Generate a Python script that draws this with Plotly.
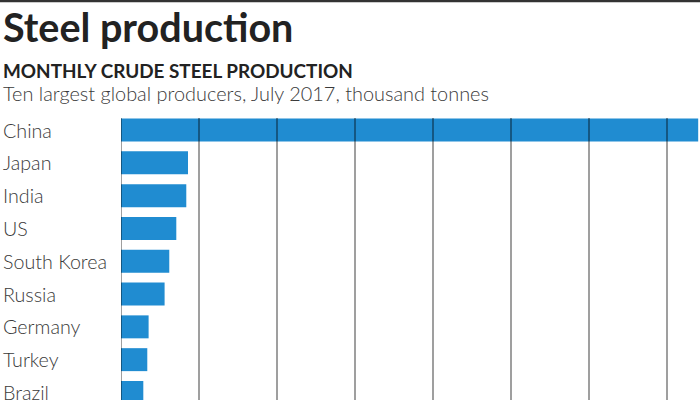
import plotly.graph_objects as go

countries = ["China", "Japan", "India", "US", "South Korea", "Russia", "Germany", "Turkey", "Brazil"]
production = [74000, 8590, 8370, 7090, 6190, 5590, 3540, 3370, 2860]
grid_ticks = [0, 10000, 20000, 30000, 40000, 50000, 60000, 70000]

W, H = 700, 400
ML, MR, MT, MB = 121, 0, 112, 0
PW, PH = W - ML - MR, H - MT - MB
FONT = "Lato"
BAR = "#208cd1"

def px_x(px):
    return (px - ML) / PW

def px_y(py):
    return (H - MB - py) / PH

fig = go.Figure(go.Bar(
    x=production, y=countries, orientation="h",
    marker=dict(color=BAR, line=dict(width=0)),
    hoverinfo="x+y",
))

shapes = []
for t in grid_ticks:
    shapes.append(dict(type="line", xref="x", yref="paper", x0=t, x1=t,
                       y0=0, y1=px_y(118), layer="above",
                       line=dict(color="rgba(0,0,0,0.5)", width=1.5)))
shapes.append(dict(type="line", xref="paper", yref="paper", x0=px_x(0), x1=px_x(700),
                   y0=px_y(1), y1=px_y(1), line=dict(color="#333333", width=2.5)))

annotations = []
annotations.append(dict(text="<b>Steel production</b>", xref="paper", yref="paper",
                        x=px_x(1), y=px_y(1), xanchor="left", yanchor="top", showarrow=False,
                        font=dict(family=FONT, size=39.5, color="#222222")))
annotations.append(dict(text="<b>MONTHLY CRUDE STEEL PRODUCTION</b>", xref="paper", yref="paper",
                        x=px_x(1), y=px_y(57), xanchor="left", yanchor="top", showarrow=False,
                        font=dict(family=FONT, size=18.9, color="#222222")))
annotations.append(dict(text="Ten largest global producers, July 2017, thousand tonnes", xref="paper", yref="paper",
                        x=px_x(1), y=px_y(79), xanchor="left", yanchor="top", showarrow=False,
                        font=dict(family=FONT, size=19.9, color="#3a3a3a", weight=300)))
for c in countries:
    annotations.append(dict(text=c, xref="paper", yref="y", x=px_x(1), y=c,
                            xanchor="left", yanchor="middle", showarrow=False,
                            font=dict(family=FONT, size=19.7, color="#3a3a3a", weight=300)))

fig.update_layout(
    width=W, height=H,
    margin=dict(l=ML, r=MR, t=MT, b=MB, pad=0),
    paper_bgcolor="white", plot_bgcolor="white",
    bargap=0.3, showlegend=False,
    xaxis=dict(range=[0, PW / 78 * 10000], showgrid=False, zeroline=False,
               showticklabels=False, ticks="", fixedrange=True),
    yaxis=dict(range=[8.23, -0.55], showgrid=False, zeroline=False,
               showticklabels=False, ticks="", fixedrange=True),
    shapes=shapes, annotations=annotations,
)

fig.write_html("out.html", config={"displayModeBar": False},
               post_script="document.body.style.margin='0px';document.body.style.overflow='hidden';")
